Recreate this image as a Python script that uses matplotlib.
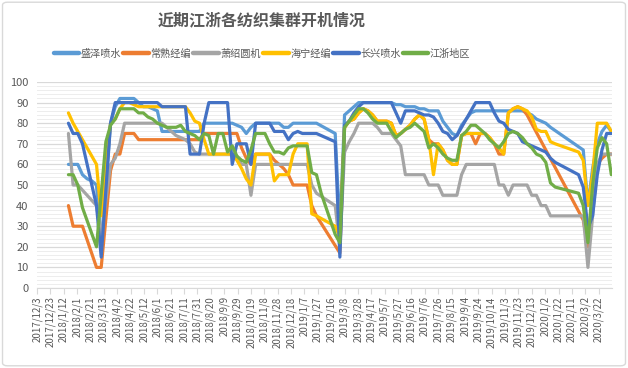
import numpy as np
import pandas as pd
import matplotlib
matplotlib.use("Agg")
import matplotlib.pyplot as plt
from matplotlib.ticker import MultipleLocator
from matplotlib.patches import FancyBboxPatch

plt.rcParams['font.family'] = ['Noto Sans CJK SC', 'DejaVu Sans']

title = "近期江浙各纺织集群开机情况"

# weekly (Friday) observations, None = no reading that week
weeks = pd.date_range("2018-01-19", periods=117, freq="7D")
x_ticks = pd.date_range("2017-12-03", "2020-03-22", freq="20D")

names = ["盛泽喷水", "常熟经编", "萧绍圆机", "海宁经编", "长兴喷水", "江浙地区"]
colors = ["#5B9BD5", "#ED7D31", "#A5A5A5", "#FFC000", "#4472C4", "#70AD47"]

shengze = [60, 60, 60, 55, 53, 52, 50, 20, None, 80,
           88, 92, 92, 92, 92, 90, 88, 88, 87, 86,
           76, 76, 76, 76, 76, 76, 76, 76, 76, 80,
           80, 80, 80, 80, 80, 80, 79, 78, 75, 78,
           80, 80, 80, 80, 80, 80, 78, 78, 80, 80,
           80, 80, 80, 80, None, None, None, 75, 28, 84,
           86, 88, 90, 90, 90, 90, 90, 90, 90, 90,
           89, 89, 88, 88, 88, 87, 87, 86, 86, 86,
           81, 78, 75, 74, 79, 82, 85, 86, 86, 86,
           86, 86, 86, 86, 86, 86, 86, 86, 85, 84,
           82, 81, 80, 78, None, None, None, None, None, None,
           67, 40, 58, 70, 76, 79, 76]

changshu = [40, 30, 30, 30, None, None, 10, 10, None, 57,
            65, 65, 75, 75, 75, 72, 72, 72, 72, 72,
            72, 72, 72, 72, 72, 72, 72, 72, 72, 75,
            75, 75, 75, 75, 75, 75, 75, 68, 63, 60,
            65, 65, 65, 65, 62, 60, 58, 55, 50, 50,
            50, 50, 40, 35, None, None, None, None, 17, 78,
            81, 82, 85, 87, 86, 84, 81, 81, 81, 80,
            74, 75, 77, 79, 82, 84, 82, 72, 70, 70,
            67, 62, 60, 60, 74, 75, 75, 70, 75, 75,
            73, 70, 65, 65, 85, 87, 88, 87, 84, None,
            None, None, None, None, None, None, None, None, None, None,
            33, 20, 45, 60, 63, 65, 65]

xiaoshao = [75, 50, 50, None, None, None, 40, 25, None, 60,
            63, 70, 80, 80, 80, 80, 80, 80, 80, 80,
            80, 78, 76, 74, 73, 72, 70, 66, 65, 65,
            65, 65, 65, 65, 65, 65, 64, 60, 60, 45,
            60, 60, 60, 60, 60, 60, 60, 60, 60, 60,
            60, 60, 50, 46, None, None, None, 40, 20, 66,
            71, 75, 80, 80, 80, 80, 78, 75, 75, 75,
            72, 69, 55, 55, 55, 55, 55, 50, 50, 50,
            45, 45, 45, 45, 55, 60, 60, 60, 60, 60,
            60, 60, 50, 50, 45, 50, 50, 50, 50, 45,
            45, 40, 40, 35, 35, 35, 35, 35, 35, 35,
            35, 10, 35, 60, 65, 65, 65]

haining = [85, 80, None, None, None, None, 60, 35, None, 80,
           82, 87, 90, 90, 89, 88, 88, 88, 88, 88,
           88, 88, 88, 88, 88, 88, 85, 81, 80, 72,
           65, 65, 65, 65, 65, 65, 62, 58, 53, 50,
           65, 65, 65, 65, 52, 55, 55, 55, 65, 70,
           70, 70, 36, 35, None, None, None, 30, 25, 78,
           81, 82, 85, 87, 86, 84, 81, 81, 81, 80,
           74, 75, 77, 79, 82, 84, 82, 72, 55, 70,
           67, 62, 60, 60, 74, 75, 75, 75, 75, 75,
           73, 70, 68, 65, 85, 87, 88, 87, 86, 83,
           77, 76, 76, 71, 70, None, None, None, None, 66,
           62, 40, 55, 80, 80, 80, 76]

changxing = [80, 75, 75, 70, 60, 50, 40, 15, None, 80,
             90, 90, 90, 90, 90, 90, 90, 90, 90, 90,
             88, 88, 88, 88, 88, 88, 65, 65, 65, 80,
             90, 90, 90, 90, 90, 60, 70, 70, 70, 60,
             80, 80, 80, 80, 76, 76, 76, 72, 75, 76,
             75, 75, 75, 75, None, None, None, 71, 15, 79,
             81, 85, 88, 90, 90, 90, 90, 90, 90, 90,
             85, 80, 86, 86, 86, 85, 84, 84, 83, 80,
             76, 75, 72, 74, 78, 82, 86, 90, 90, 90,
             90, 85, 81, 80, 77, 76, 75, 71, 70, 69,
             68, 67, 66, 63, 61, None, None, None, None, 55,
             49, 29, 35, 55, 67, 75, 75]

jiangzhe = [55, 55, 50, 39, None, None, 20, None, 71, 79,
            82, 87, 87, 87, 87, 85, 85, 83, 82, 80,
            79, 78, 78, 78, 79, 76, 75, 74, 72, 75,
            74, 65, 75, 75, 66, 69, 64, 62, 61, 67,
            75, 75, 75, 70, 66, 66, 65, 68, 69, 69,
            69, 69, 56, 55, 46, None, None, 26, 22, 78,
            81, 84, 87, 87, 85, 82, 80, 80, 80, 76,
            73, 75, 77, 78, 80, 78, 76, 68, 70, 68,
            65, 63, 62, 62, 74, 76, 79, 79, 77, 75,
            72, 70, 68, 71, 75, 76, 75, 73, 70, 68,
            65, 64, 61, 51, 49, None, None, None, None, 46,
            40, 22, 50, 68, 73, 70, 55]

series = [shengze, changshu, xiaoshao, haining, changxing, jiangzhe]

fig = plt.figure(figsize=(6.28, 3.68), dpi=100)
ax = fig.add_axes([37 / 628, 80 / 368, 575 / 628, 206 / 368])

for name, vals, c in zip(names, series, colors):
    y = np.array([np.nan if v is None else v for v in vals], dtype=float)
    ok = ~np.isnan(y)
    ax.plot(weeks[ok], y[ok], color=c, lw=2.3, label=name,
            solid_joinstyle='round', solid_capstyle='round')

ax.set_ylim(0, 100)
ax.yaxis.set_major_locator(MultipleLocator(10))
ax.yaxis.set_minor_locator(MultipleLocator(2))
ax.grid(which='major', axis='y', color='#D9D9D9', lw=0.9)
ax.grid(which='minor', axis='y', color='#EDEDED', lw=0.7)
ax.set_axisbelow(True)

for s in ['left', 'top', 'right']:
    ax.spines[s].set_visible(False)
ax.spines['bottom'].set_color('#D9D9D9')

ax.set_xlim(pd.Timestamp("2017-12-03"), pd.Timestamp("2020-04-11"))
ax.set_xticks(x_ticks)
ax.set_xticklabels([f"{d.year}/{d.month}/{d.day}" for d in x_ticks],
                   rotation=90, fontsize=7, color='#595959')
ax.tick_params(axis='x', length=4, color='#D9D9D9', pad=2)
ax.tick_params(axis='y', which='both', length=0, labelsize=8, labelcolor='#595959', pad=6)

leg = fig.legend(loc='center', bbox_to_anchor=(262 / 628, 1 - 54 / 368), ncol=6,
                 frameon=False, fontsize=7.3, handlelength=2.5, columnspacing=0.25,
                 handletextpad=0.15, labelcolor='#595959')
for h in leg.get_lines():
    h.set_linewidth(3.2)
    h.set_solid_capstyle('round')

fig.text(262 / 628, 1 - 20 / 368, title, ha='center', va='center',
         fontsize=11.5, fontweight='bold', color='#595959')

fig.add_artist(FancyBboxPatch((0.004, 0.006), 0.992, 0.988, transform=fig.transFigure,
                              boxstyle="round,pad=0,rounding_size=0.008",
                              fill=False, ec='#D9D9D9', lw=1))

fig.savefig("out.png", dpi=100)
